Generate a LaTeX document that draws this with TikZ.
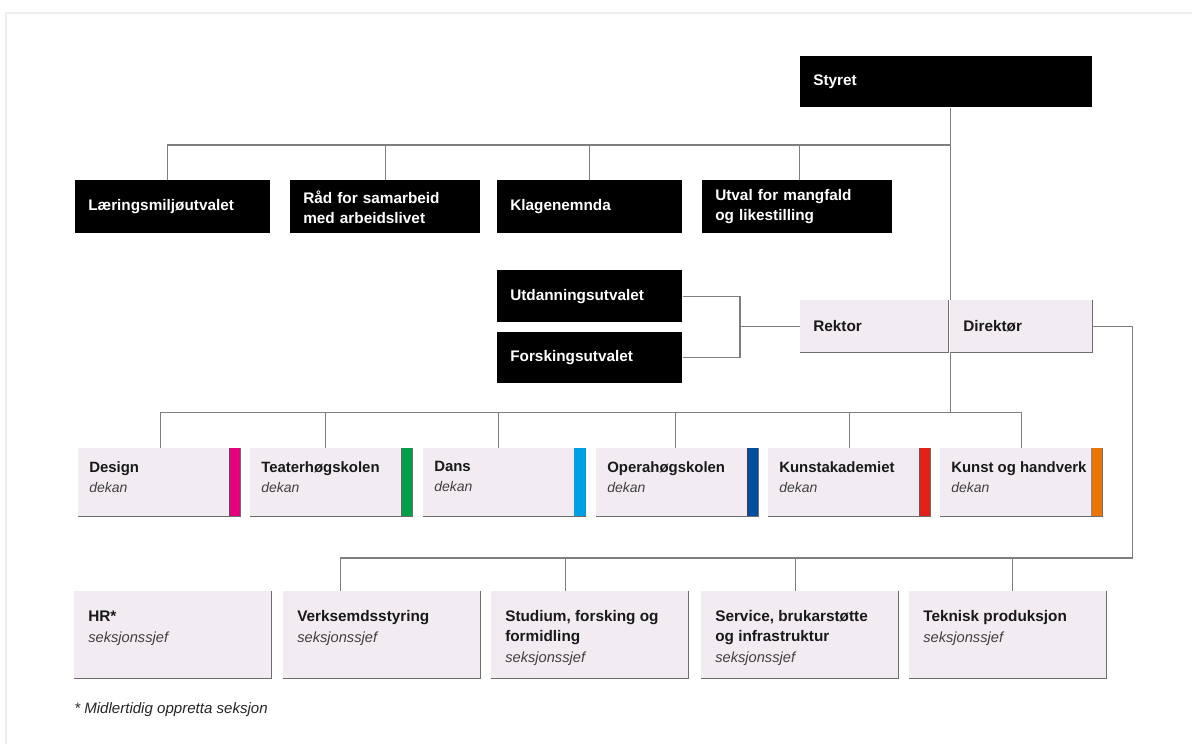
\documentclass[tikz,border=0pt]{standalone}
\usepackage{fontspec}
\setmainfont{Liberation Sans}
\usetikzlibrary{calc}
\definecolor{lav}{HTML}{F2ECF2}
\definecolor{edgec}{HTML}{6E6E6E}
\definecolor{linec}{HTML}{7E7E7E}
\definecolor{framec}{HTML}{EEEEEE}
\definecolor{cDesign}{HTML}{E5007E}
\definecolor{cTeater}{HTML}{00A04A}
\definecolor{cDans}{HTML}{009FE3}
\definecolor{cOpera}{HTML}{004F9F}
\definecolor{cKunstak}{HTML}{E3211B}
\definecolor{cKunsth}{HTML}{EC7404}
\newcommand{\titf}{\fontsize{11.5}{15}\selectfont\bfseries}
\newcommand{\dektitf}{\fontsize{11.2}{15}\selectfont\bfseries}
\newcommand{\subtxt}[2]{{\fontsize{#1}{15}\selectfont\mdseries\itshape\color{black!75}#2}}
\newcommand{\dekbox}[1]{\parbox[c][51pt][t]{105pt}{\vspace*{10pt}#1\\\subtxt{10.5}{dekan}}}
\newcommand{\secbox}[1]{\parbox[c][65.25pt][t]{126.75pt}{\vspace*{14.5pt}#1\\[0.8pt]\subtxt{11}{seksjonssjef}}}
\begin{document}
\begin{tikzpicture}[x=0.75pt,y=-0.75pt,
  blk/.style={anchor=north west, fill=black, text=white, font=\titf, align=left,
    inner xsep=9.75pt, inner ysep=0pt},
  lavc/.style={anchor=north west, fill=lav, text=black!90, font=\titf, align=left,
    inner xsep=9.75pt, inner ysep=0pt, minimum height=39pt},
  dek/.style={anchor=north west, fill=lav, text=black!90, font=\dektitf, inner xsep=8.25pt,
    inner ysep=0pt,
    path picture={\fill[#1] ([xshift=-8.25pt]path picture bounding box.north east)
      rectangle (path picture bounding box.south east);}},
  secn/.style={anchor=north west, fill=lav, text=black!90, font=\titf, inner xsep=10.5pt,
    inner ysep=0pt},
  conn/.style={draw=linec, line width=1pt},
  edge/.style={draw=edgec, line width=0.8pt}
]
\useasboundingbox (0,0) rectangle (1192,744);
\fill[white] (0,0) rectangle (1192,744);
\draw[framec, line width=1.5pt] (6,744) -- (6,13) -- (1192,13);

% top level
\node[blk, minimum height=38.25pt, text width=199.5pt] (styret) at (800,56) {Styret};
\node[blk, minimum height=39.75pt, text width=126.75pt] (laer) at (75,180) {Læringsmiljøutvalet};
\node[blk, minimum height=39.75pt, text width=123pt] (raad) at (290,180) {Råd for samarbeid\\med arbeidslivet};
\node[blk, minimum height=39.75pt, text width=119.25pt] (klage) at (497,180) {Klagenemnda};
\node[blk, minimum height=39.75pt, text width=123pt] (utval) at (702,180) {Utval for mangfald\\og likestilling};
\node[blk, minimum height=39pt, text width=119.25pt] (utd) at (497,270) {Utdanningsutvalet};
\node[blk, minimum height=38.25pt, text width=119.25pt] (forsk) at (497,332) {Forskingsutvalet};
\node[lavc, text width=91.5pt] (rektor) at (800,300) {Rektor};
\node[lavc, text width=87pt] (direktor) at (950,300) {Direktør};

% faculties
\node[dek=cDesign] (design) at (78,448) {\dekbox{Design}};
\node[dek=cTeater] (teater) at (250,448) {\dekbox{Teaterhøgskolen}};
\node[dek=cDans] (dans) at (423,448) {\dekbox{Dans}};
\node[dek=cOpera] (opera) at (596,448) {\dekbox{Operahøgskolen}};
\node[dek=cKunstak] (kunstak) at (768,448) {\dekbox{Kunstakademiet}};
\node[dek=cKunsth] (kunsth) at (940,448) {\dekbox{Kunst og handverk}};

% sections
\node[secn] (hr) at (74,591) {\secbox{HR*}};
\node[secn] (verk) at (283,591) {\secbox{Verksemdsstyring}};
\node[secn] (studium) at (491,591) {\secbox{Studium, forsking og\\formidling}};
\node[secn] (service) at (701,591) {\secbox{Service, brukarstøtte\\og infrastruktur}};
\node[secn] (teknisk) at (909,591) {\secbox{Teknisk produksjon}};

\foreach \n in {rektor,direktor,design,teater,dans,opera,kunstak,kunsth,hr,verk,studium,service,teknisk}
  \draw[edge] (\n.north east) -- (\n.south east) -- (\n.south west);

% footnote
\node[anchor=west, font=\fontsize{11.3}{13}\selectfont\itshape, text=black!85, inner sep=0pt] (note) at (74,710) {* Midlertidig oppretta seksjon};

% connectors
\coordinate (b1) at ($(rektor.north east |- laer.north)+(2,-35)$);
\draw[conn] ($(styret.south -| rektor.north east)+(2,0)$) -- ($(rektor.north east)+(2,0)$);
\draw[conn] ($(laer.north)+(-5,0)$) |- (b1);
\draw[conn] (raad.north) |- (b1);
\draw[conn] (klage.north) |- (b1);
\draw[conn] ($(utval.north)+(2,0)$) |- (b1);

\coordinate (j) at ($(rektor.west)+(-60,0)$);
\draw[conn] (utd.east) -| (j) |- (forsk.east);
\draw[conn] (j) -- (rektor.west);

\coordinate (b2) at ($(rektor.south east)+(2,60)$);
\draw[conn] ($(rektor.south east)+(2,0)$) -- (b2);
\draw[conn] ($(design.north)+(1,0)$) |- (b2);
\draw[conn] ($(teater.north)+(-6,0)$) |- (b2);
\draw[conn] ($(dans.north)+(-6,0)$) |- (b2);
\draw[conn] ($(opera.north)+(-2,0)$) |- (b2);
\draw[conn] (kunstak.north) |- (b2);
\draw[conn] (kunsth.north) |- (b2);

\coordinate (c) at ($(direktor.east)+(40,0)$);
\coordinate (b3) at ($(c |- teknisk.north)+(0,-33)$);
\draw[conn] (direktor.east) -| (b3);
\draw[conn] ($(verk.north)+(-41.5,0)$) |- (b3);
\draw[conn] ($(studium.north)+(-24.5,0)$) |- (b3);
\draw[conn] ($(service.north)+(-4,0)$) |- (b3);
\draw[conn] ($(teknisk.north)+(5,0)$) |- (b3);
\end{tikzpicture}
\end{document}
